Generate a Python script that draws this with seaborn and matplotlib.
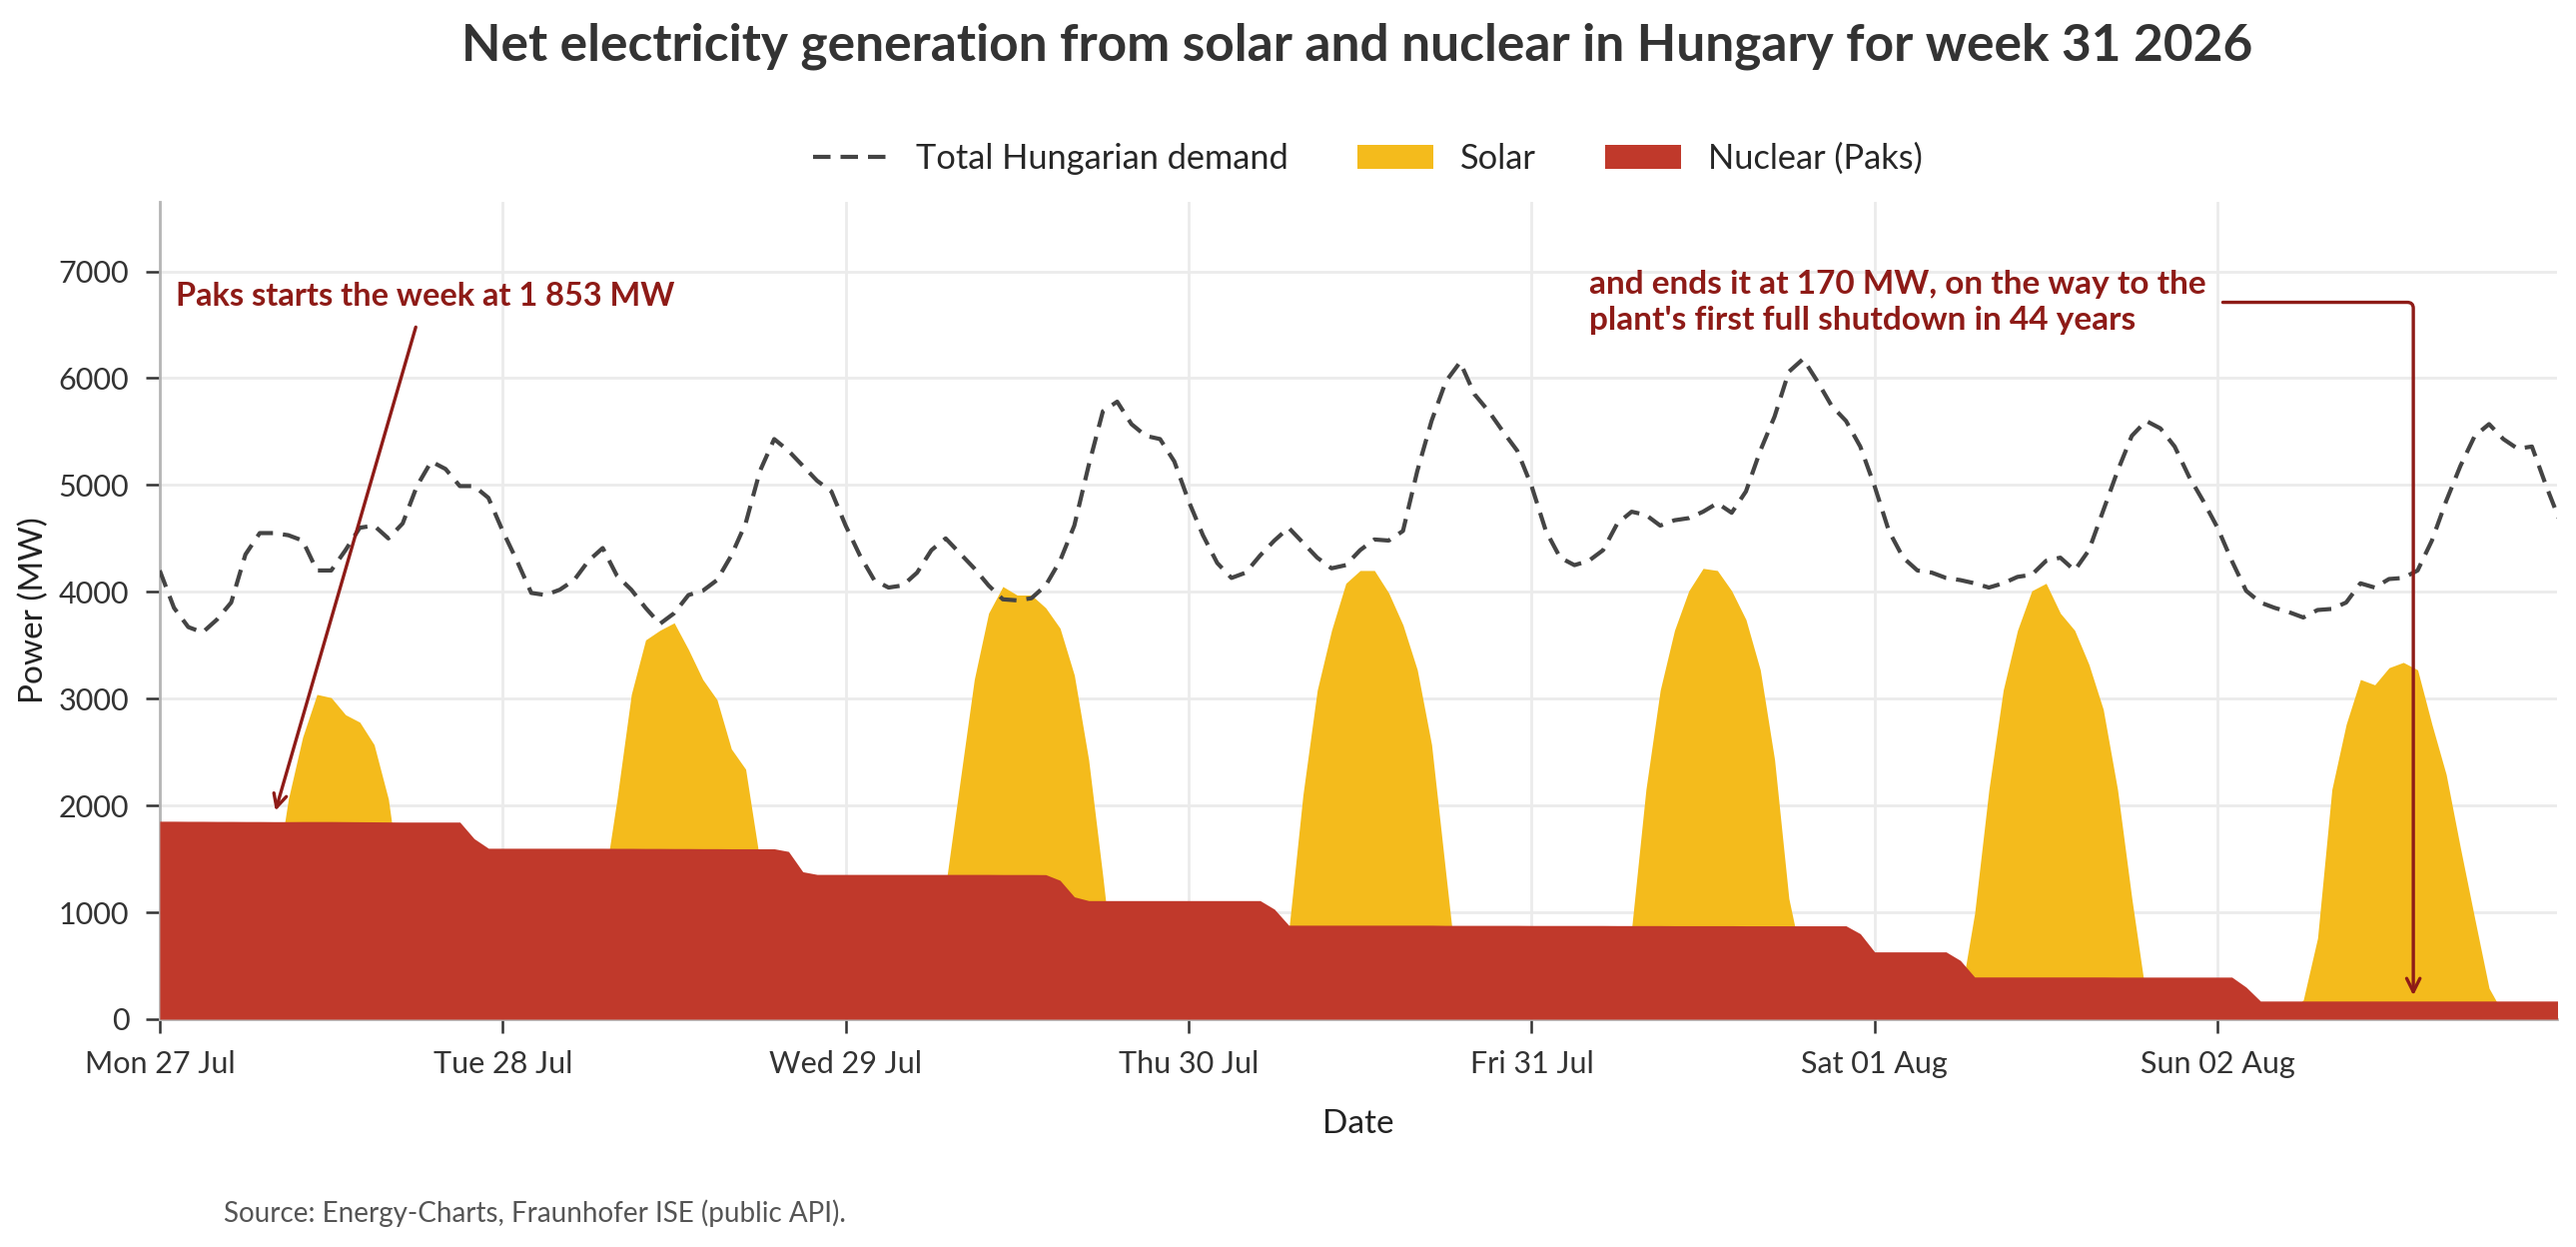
import pandas as pd
import matplotlib.pyplot as plt
import matplotlib.dates as mdates
from matplotlib.patches import Patch
from matplotlib.lines import Line2D
import seaborn as sns

# hourly values, Mon 27 Jul 2026 00:00 -> Mon 03 Aug 00:00 (MW)
week_start = "2026-07-27 00:00"

demand_mon = [4200, 3850, 3670, 3620, 3740, 3900, 4350, 4550, 4550, 4530, 4480, 4200,
              4200, 4390, 4600, 4620, 4500, 4640, 4990, 5220, 5150, 4990, 4990, 4880]
demand_tue = [4570, 4290, 3990, 3970, 4020, 4110, 4290, 4410, 4150, 4020, 3850, 3700,
              3800, 3970, 4010, 4110, 4340, 4640, 5130, 5430, 5320, 5180, 5040, 4940]
demand_wed = [4620, 4340, 4110, 4040, 4060, 4180, 4390, 4500, 4360, 4220, 4060, 3930,
              3920, 3940, 4060, 4290, 4620, 5180, 5690, 5780, 5570, 5460, 5430, 5220]
demand_thu = [4850, 4530, 4270, 4130, 4180, 4340, 4480, 4600, 4460, 4320, 4220, 4250,
              4390, 4490, 4480, 4570, 5130, 5600, 5970, 6150, 5850, 5690, 5500, 5320]
demand_fri = [4990, 4570, 4320, 4250, 4290, 4390, 4640, 4750, 4720, 4620, 4670, 4690,
              4750, 4830, 4740, 4940, 5320, 5640, 6060, 6180, 5970, 5740, 5600, 5360]
demand_sat = [4990, 4570, 4320, 4200, 4180, 4130, 4110, 4080, 4040, 4080, 4140, 4160,
              4290, 4320, 4200, 4390, 4760, 5130, 5460, 5600, 5530, 5360, 5080, 4850]
demand_sun = [4600, 4290, 4010, 3900, 3850, 3810, 3760, 3830, 3840, 3900, 4080, 4040,
              4120, 4130, 4200, 4480, 4850, 5180, 5460, 5570, 5430, 5340, 5360, 4990]
demand_end = [4650]

solar_mon = [0, 0, 0, 0, 0, 20, 120, 450, 1200, 2060, 2640, 3040,
             3010, 2850, 2780, 2570, 2060, 1100, 400, 60, 0, 0, 0, 0]
solar_tue = [0, 0, 0, 0, 30, 250, 650, 1180, 2060, 3040, 3550, 3640,
             3710, 3460, 3180, 2990, 2530, 2340, 1480, 700, 200, 30, 0, 0]
solar_wed = [0, 0, 0, 0, 30, 300, 750, 1250, 2220, 3180, 3800, 4050,
             3970, 3970, 3850, 3660, 3220, 2430, 1330, 150, 0, 0, 0, 0]
solar_thu = [0, 0, 0, 0, 30, 150, 350, 820, 2100, 3080, 3640, 4080,
             4200, 4200, 3990, 3690, 3270, 2570, 1360, 160, 0, 0, 0, 0]
solar_fri = [0, 0, 0, 0, 30, 150, 450, 850, 2150, 3080, 3640, 4010,
             4220, 4200, 4010, 3740, 3270, 2430, 1130, 500, 100, 0, 0, 0]
solar_sat = [0, 0, 0, 0, 20, 100, 200, 990, 2150, 3080, 3640, 4010,
             4080, 3800, 3640, 3320, 2900, 2150, 1130, 210, 30, 0, 0, 0]
solar_sun = [0, 0, 0, 0, 20, 60, 180, 760, 2150, 2760, 3180, 3130,
             3290, 3340, 3270, 2760, 2290, 1600, 940, 290, 50, 0, 0, 0]
solar_end = [0]

nuclear_mon = [1853, 1853, 1852, 1852, 1851, 1851, 1850, 1850, 1849, 1849, 1850, 1850,
               1850, 1849, 1848, 1847, 1846, 1845, 1845, 1845, 1845, 1845, 1690, 1600]
nuclear_tue = [1600, 1600, 1600, 1600, 1600, 1600, 1600, 1600, 1599, 1599, 1598, 1598,
               1597, 1597, 1596, 1596, 1595, 1595, 1595, 1595, 1570, 1380, 1355, 1355]
nuclear_wed = [1355, 1355, 1355, 1355, 1355, 1355, 1355, 1355, 1355, 1355, 1355, 1354,
               1354, 1354, 1353, 1300, 1145, 1110, 1110, 1110, 1110, 1110, 1110, 1110]
nuclear_thu = [1110, 1110, 1110, 1110, 1110, 1110, 1030, 880, 880, 880, 880, 880,
               880, 880, 880, 880, 880, 880, 878, 878, 878, 878, 878, 878]
nuclear_fri = [877, 877, 877, 877, 877, 877, 876, 876, 876, 876, 875, 875,
               875, 875, 875, 874, 874, 874, 874, 874, 874, 874, 874, 800]
nuclear_sat = [630, 630, 630, 630, 630, 630, 550, 395, 395, 395, 395, 395,
               395, 395, 395, 395, 395, 394, 394, 394, 394, 394, 394, 394]
nuclear_sun = [394, 394, 300, 170, 170, 170, 170, 170, 170, 170, 170, 170,
               170, 170, 170, 170, 170, 170, 170, 170, 170, 170, 170, 170]
nuclear_end = [170]

demand = demand_mon + demand_tue + demand_wed + demand_thu + demand_fri + demand_sat + demand_sun + demand_end
solar = solar_mon + solar_tue + solar_wed + solar_thu + solar_fri + solar_sat + solar_sun + solar_end
nuclear = nuclear_mon + nuclear_tue + nuclear_wed + nuclear_thu + nuclear_fri + nuclear_sat + nuclear_sun + nuclear_end

df = pd.DataFrame({
    "time": pd.date_range(week_start, periods=len(demand), freq="h"),
    "demand": demand,
    "solar": solar,
    "nuclear": nuclear,
})

SOLAR = "#f4bb1c"
NUCLEAR = "#c0392b"
NOTE = "#8e1b17"
LINE = "#444444"
DASH = (4.2, 2.4)

sns.set_theme(style="whitegrid", rc={
    "grid.color": "#ebebeb",
    "grid.linewidth": 1.0,
    "axes.edgecolor": "#b5b5b5",
    "axes.linewidth": 1.0,
    "xtick.bottom": True,
    "ytick.left": True,
    "xtick.color": "#333333",
    "ytick.color": "#333333",
    "xtick.major.size": 5,
    "ytick.major.size": 5,
    "xtick.major.width": 0.9,
    "ytick.major.width": 0.9,
})
plt.rcParams["font.family"] = ["Lato", "DejaVu Sans"]

fig = plt.figure(figsize=(12.895, 6.24), dpi=200)
ax = fig.add_axes([0.062, 0.1827, 0.9306, 0.6554])

# solar drawn from zero, nuclear drawn over it
ax.fill_between(df["time"], 0, df["solar"], color=SOLAR, linewidth=0, zorder=2)
ax.fill_between(df["time"], 0, df["nuclear"], color=NUCLEAR, linewidth=0, zorder=3)
sns.lineplot(data=df, x="time", y="demand", ax=ax, color=LINE, linewidth=1.5,
             dashes=False, zorder=4).lines[0].set_dashes(DASH)

ax.set_xlim(df["time"].iloc[0], df["time"].iloc[0] + pd.Timedelta(hours=167.75))
ax.set_ylim(0, 7650)
ax.set_yticks(range(0, 7001, 1000))
ax.xaxis.set_major_locator(mdates.DayLocator())
ax.xaxis.set_major_formatter(mdates.DateFormatter("%a %d %b"))
ax.tick_params(axis="both", labelsize=11, pad=6)
for side in ["top", "right"]:
    ax.spines[side].set_visible(False)
ax.set_axisbelow(True)

ax.set_xlabel("Date", fontsize=12, color="#222222")
ax.set_ylabel("Power (MW)", fontsize=12, color="#222222")
ax.xaxis.set_label_coords(0.5, -0.11)
ax.yaxis.set_label_coords(-0.046, 0.5)

t0 = df["time"].iloc[0]
ax.annotate("Paks starts the week at 1 853 MW",
            xy=(t0 + pd.Timedelta(hours=8.1), 1950),
            xytext=(t0 + pd.Timedelta(hours=1.1), 6770),
            ha="left", va="center", fontsize=11.7, fontweight="bold", color=NOTE,
            arrowprops=dict(arrowstyle="->", color=NOTE, lw=1.2, shrinkA=4, shrinkB=0),
            zorder=6)
ax.annotate("and ends it at 170 MW, on the way to the\nplant's first full shutdown in 44 years",
            xy=(t0 + pd.Timedelta(hours=157.7), 170),
            xytext=(t0 + pd.Timedelta(hours=100.0), 6710),
            ha="left", va="center", fontsize=12, fontweight="bold", color=NOTE,
            linespacing=1.3,
            arrowprops=dict(arrowstyle="->", color=NOTE, lw=1.2, shrinkA=4, shrinkB=2,
                            relpos=(1.0, 0.5),
                            connectionstyle="angle,angleA=0,angleB=90,rad=6"),
            zorder=6)

handles = [
    Line2D([0], [0], color=LINE, lw=1.5, dashes=DASH),
    Patch(facecolor=SOLAR, edgecolor="none"),
    Patch(facecolor=NUCLEAR, edgecolor="none"),
]
fig.legend(handles, ["Total Hungarian demand", "Solar", "Nuclear (Paks)"],
           loc="center", bbox_to_anchor=(0.531, 0.873), ncol=3, frameon=False,
           fontsize=12.4, handlelength=2.2, columnspacing=2.0)

fig.text(0.527, 0.963, "Net electricity generation from solar and nuclear in Hungary for week 31 2026",
         ha="center", va="center", fontsize=18.5, fontweight="bold", color="#333333")
fig.text(0.087, 0.027, "Source: Energy-Charts, Fraunhofer ISE (public API).",
         ha="left", va="center", fontsize=10, color="#555555")

fig.savefig("out.png", dpi=200)
